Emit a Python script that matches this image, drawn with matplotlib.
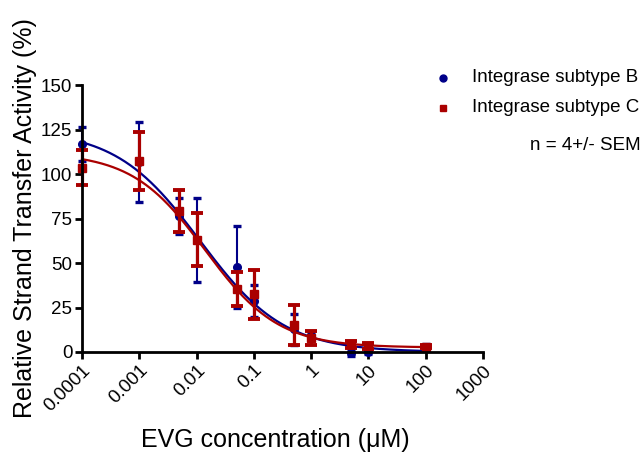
import numpy as np
import matplotlib
matplotlib.use("Agg")
import matplotlib.pyplot as plt
from matplotlib.lines import Line2D

plt.rcParams['font.family'] = ['Liberation Sans', 'DejaVu Sans']

# Concentrations (uM)
conc = [0.0001, 0.001, 0.005, 0.01, 0.05, 0.1, 0.5, 1, 5, 10, 100]

# Subtype B
b_mean = [116.7, 106.6, 76.3, 63.0, 47.6, 28.4, 12.7, 9.0, -0.5, 0.0, 3.0]
b_sem = [9.5, 22.5, 10.0, 23.5, 23.0, 9.0, 8.7, 2.0, 1.5, 1.0, 1.5]

# Subtype C
c_mean = [103.6, 107.3, 79.1, 63.2, 35.4, 32.5, 15.2, 7.7, 4.3, 3.4, 3.0]
c_sem = [10.0, 16.5, 11.7, 15.0, 9.5, 13.8, 11.3, 4.0, 2.0, 1.5, 1.0]

# 4-parameter logistic fit parameters: top, bottom, logIC50, hill
b_fit = dict(top=125.0, bottom=0.0, logic50=-1.94, hill=0.59)
c_fit = dict(top=112.0, bottom=2.5, logic50=-1.85, hill=0.68)

xticks = [0.0001, 0.001, 0.01, 0.1, 1, 10, 100, 1000]
xticklabels = ['0.0001', '0.001', '0.01', '0.1', '1', '10', '100', '1000']
yticks = [0, 25, 50, 75, 100, 125, 150]

blue = '#000088'
red = '#AA0000'


def logistic(x, p):
    return p['bottom'] + (p['top'] - p['bottom']) / (1 + 10 ** ((np.log10(x) - p['logic50']) * p['hill']))


fig = plt.figure(figsize=(6.43, 4.57), dpi=100)
ax = fig.add_axes([82 / 643, 1 - 352 / 457, (483 - 82) / 643, (352 - 85) / 457])

xs = np.logspace(-4, 2, 400)
ax.plot(xs, logistic(xs, b_fit), color=blue, lw=1.6, zorder=2, clip_on=False)
ax.errorbar(conc, b_mean, yerr=b_sem, fmt='o', color=blue, ms=5.5, elinewidth=1.5,
            capsize=3.2, capthick=2.4, zorder=3, clip_on=False)
ax.plot(xs, logistic(xs, c_fit), color=red, lw=1.6, zorder=4, clip_on=False)
ax.errorbar(conc, c_mean, yerr=c_sem, fmt='s', color=red, ms=6, elinewidth=2.3,
            capsize=4.0, capthick=2.8, zorder=5, clip_on=False)

ax.set_xscale('log')
ax.set_xlim(0.0001, 1000)
ax.set_ylim(0, 150)
ax.set_xticks(xticks)
ax.set_xticklabels(xticklabels, rotation=45, ha='right', rotation_mode='anchor')
ax.xaxis.set_minor_locator(matplotlib.ticker.NullLocator())
ax.set_yticks(yticks)

for s in ['top', 'right']:
    ax.spines[s].set_visible(False)
for s in ['left', 'bottom']:
    ax.spines[s].set_linewidth(2)
    ax.spines[s].set_zorder(10)
ax.tick_params(axis='both', width=2, length=5, labelsize=13.5, pad=2)

ax.set_xlabel('EVG concentration (\u03bcM)', fontsize=18, labelpad=10, x=0.481)
ax.set_ylabel('Relative Strand Transfer Activity (%)', fontsize=18, labelpad=3)

# Legend (manual placement)
fig.add_artist(Line2D([443 / 643], [1 - 78 / 457], marker='o', color=blue, ls='none', ms=5,
                      transform=fig.transFigure))
fig.add_artist(Line2D([443 / 643], [1 - 108 / 457], marker='s', color=red, ls='none', ms=5,
                      transform=fig.transFigure))
fig.text(472 / 643, 1 - 78 / 457, 'Integrase subtype B', ha='left', va='center', fontsize=13.5)
fig.text(472 / 643, 1 - 108 / 457, 'Integrase subtype C', ha='left', va='center', fontsize=13.5)
fig.text(641 / 643, 1 - 145 / 457, 'n = 4+/- SEM', ha='right', va='center', fontsize=13.5)

fig.savefig('out.png', dpi=100)
